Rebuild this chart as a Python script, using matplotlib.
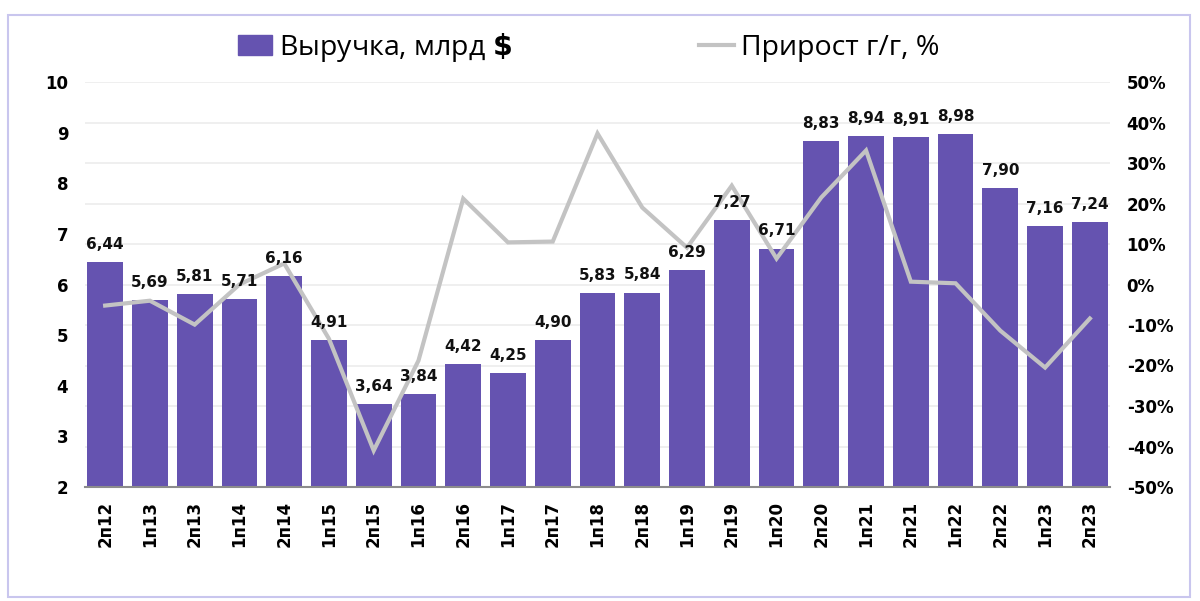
import matplotlib
matplotlib.use("Agg")
import matplotlib.pyplot as plt
from matplotlib.patches import Rectangle
from matplotlib.lines import Line2D
from matplotlib.ticker import FuncFormatter, MultipleLocator
import numpy as np

categories = ["2п12", "1п13", "2п13", "1п14", "2п14", "1п15", "2п15", "1п16", "2п16",
              "1п17", "2п17", "1п18", "2п18", "1п19", "2п19", "1п20", "2п20", "1п21",
              "2п21", "1п22", "2п22", "1п23", "2п23"]
revenue = [6.44, 5.69, 5.81, 5.71, 6.16, 4.91, 3.64, 3.84, 4.42, 4.25, 4.90, 5.83,
           5.84, 6.29, 7.27, 6.71, 8.83, 8.94, 8.91, 8.98, 7.90, 7.16, 7.24]
growth = [-5.2, -4.0, -9.9, 0.0, 5.2, -13.4, -41.0, -18.8, 21.2, 10.4, 10.6, 37.3,
          19.0, 9.1, 24.4, 6.4, 21.5, 33.1, 0.7, 0.3, -11.4, -20.5, -8.4]

bar_color = "#6553b0"
line_color = "#c3c3c3"
plt.rcParams["font.family"] = ["DejaVu Sans"]

fig = plt.figure(figsize=(12, 6.01), dpi=100)
fig.patches.append(Rectangle((8 / 1200, 4 / 601), 1182 / 1200, 582 / 601,
                             transform=fig.transFigure, fill=False,
                             edgecolor="#c9c6ee", linewidth=1.5))

ax = fig.add_axes([85 / 1200, (601 - 487) / 601, 1025 / 1200, 405 / 601])
ax2 = ax.twinx()

x = np.arange(len(categories))
ax.bar(x, revenue, width=0.8, color=bar_color, zorder=2)
ax.set_ylim(2, 10)
ax.set_xlim(-0.45, len(categories) - 0.55)
ax.yaxis.set_major_locator(MultipleLocator(1))
ax.set_xticks(x)
ax.set_xticklabels(categories, rotation=90, fontsize=12, fontweight="bold")
for lab in ax.get_yticklabels():
    lab.set_fontweight("bold")
ax.tick_params(axis="y", labelsize=12, length=0, pad=12)
ax.tick_params(axis="x", length=0, pad=10)
for s in ["top", "right", "left"]:
    ax.spines[s].set_visible(False)
ax.spines["bottom"].set_color("#8c8c8c")
ax.spines["bottom"].set_linewidth(1.5)
ax.spines["bottom"].set_zorder(6)
for g in np.arange(-40, 51, 10):
    ax.axhline(2 + (g + 50) / 100 * 8, color="#ececec", linewidth=1.2, zorder=0)

ax2.plot(x, growth, color=line_color, linewidth=3, zorder=4, solid_joinstyle="miter")
ax2.set_ylim(-50, 50)
ax2.yaxis.set_major_locator(MultipleLocator(10))
ax2.yaxis.set_major_formatter(FuncFormatter(lambda v, p: f"{v:.0f}%"))
ax2.tick_params(axis="y", labelsize=12, length=0, pad=12)
for lab in ax2.get_yticklabels():
    lab.set_fontweight("bold")
for s in ["top", "right", "left", "bottom"]:
    ax2.spines[s].set_visible(False)

# data labels on top of everything
for xi, v in zip(x, revenue):
    ax2.text(xi, (v + 0.2 - 2) / 8 * 100 - 50, f"{v:.2f}".replace(".", ","),
             ha="center", va="bottom", fontsize=11, fontweight="bold",
             color="#111111", zorder=6)

ax.set_zorder(ax2.get_zorder() - 1)
ax.patch.set_visible(False)
ax2.patch.set_visible(False)

handles = [Rectangle((0, 0), 1, 1, color=bar_color),
           Line2D([0], [0], color=line_color, linewidth=3)]
labels = [r"Выручка, млрд $\mathbf{\$}$", "Прирост г/г, %"]
leg = fig.legend(handles, labels, loc="center", bbox_to_anchor=(0.4905, 1 - 47 / 601),
                 ncol=2, frameon=False, prop={"family": ["Open Sans", "DejaVu Sans"], "size": 20.5},
                 handlelength=1.2, handletextpad=0.25, columnspacing=6.57)

fig.savefig("out.png", dpi=100)
